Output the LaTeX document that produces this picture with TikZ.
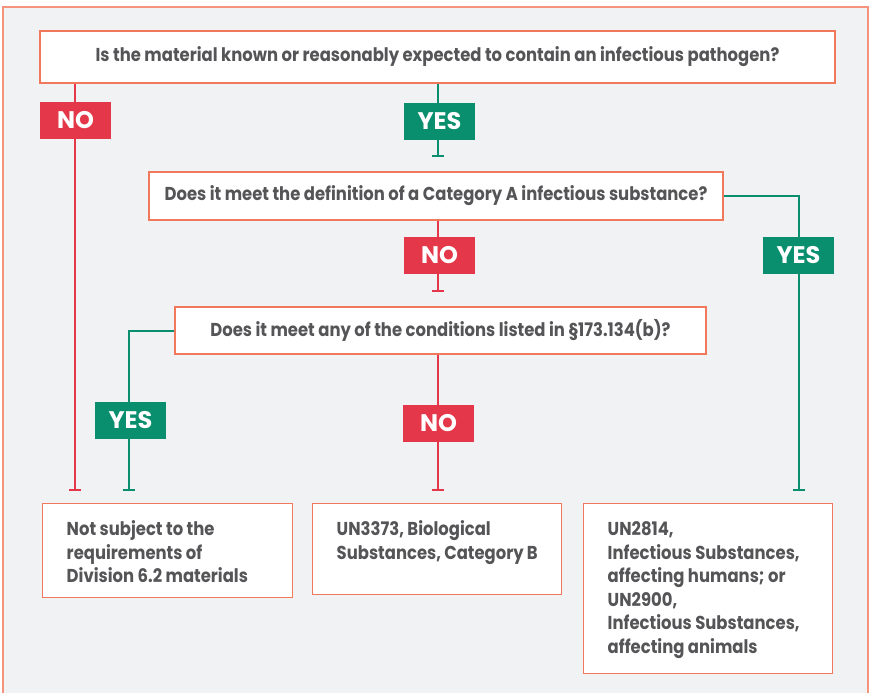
\documentclass[tikz,border=0pt]{standalone}
\usepackage{fontspec}
\setmainfont{Poppins}[FakeStretch=0.88]
\newfontfamily\tagfont{Poppins}
\usepackage{tikz}
\usetikzlibrary{arrows.meta, positioning, calc}
\definecolor{frameorange}{RGB}{242, 120, 92}
\definecolor{panelgray}{RGB}{241, 242, 244}
\definecolor{noRed}{RGB}{228, 56, 74}
\definecolor{yesGreen}{RGB}{10, 143, 110}
\definecolor{textgray}{RGB}{85, 85, 88}

\tikzset{
  question/.style={draw=frameorange, line width=1.1pt, fill=white, text=textgray, font=\bfseries\fontsize{14}{16}\selectfont, align=center, inner sep=0pt},
  outcome/.style={draw=frameorange, line width=1.1pt, fill=white, text=textgray, font=\bfseries\fontsize{14}{17.6}\selectfont, anchor=north west, inner xsep=18pt, inner ysep=0pt},
  notag/.style={fill=noRed, text=white, font=\tagfont\bfseries\fontsize{18}{18}\selectfont, minimum width=53.25pt, minimum height=27.75pt, inner sep=0pt},
  yestag/.style={notag, fill=yesGreen},
  nowire/.style={draw=noRed, line width=1.5pt, -{Bar[width=9pt]}},
  yeswire/.style={nowire, draw=yesGreen}
}
\newcommand{\outtext}[3]{\parbox[c][#1][t]{#2}{\raggedright\rule{0pt}{24pt}#3}}

\begin{document}
\begin{tikzpicture}[x=0.75pt, y=-0.75pt]
  \path[use as bounding box] (0,0) rectangle (870,692);
  \draw[frameorange!80, line width=1.1pt, fill=panelgray] (3,7) rectangle (868,720);

  % questions
  \node[question, minimum width=596.25pt, minimum height=39pt] (q1) at (437.5,57) {Is the material known or reasonably expected to contain an infectious pathogen?};
  \node[question, minimum width=430.5pt, minimum height=36pt] (q2) at (436,196) {Does it meet the definition of a Category A infectious substance?};
  \node[question, minimum width=398.25pt, minimum height=35.25pt] (q3) at (440.5,330.5) {Does it meet any of the conditions listed in \S173.134(b)?};

  % outcomes
  \node[outcome] (rA) at (42,503) {\outtext{70.5pt}{151.5pt}{Not subject to the\\requirements of\\Division 6.2 materials}};
  \node[outcome] (rB) at (312,503) {\outtext{68.25pt}{150.75pt}{UN3373, Biological\\Substances, Category B}};
  \node[outcome] (rC) at (583,503) {\outtext{127.5pt}{150.75pt}{UN2814,\\Infectious Substances,\\affecting humans; or\\UN2900,\\Infectious Substances,\\affecting animals}};

  % branch columns
  \coordinate (colL) at (75,0);
  \coordinate (colY) at (129,0);
  \coordinate (colM) at (438,0);
  \coordinate (colR) at (799,0);

  % connectors
  \draw[nowire, shorten >=9pt] (q1.south -| colL) -- (rA.north -| colL);
  \draw[yeswire, shorten >=11pt] (q1.south -| colM) -- (q2.north -| colM);
  \draw[nowire, shorten >=11pt] (q2.south -| colM) -- (q3.north -| colM);
  \draw[yeswire, shorten >=9pt] (q2.east) -| (rC.north -| colR);
  \draw[yeswire, shorten >=9pt] (q3.west) -| (rA.north -| colY);
  \draw[nowire, shorten >=9pt] (q3.south -| colM) -- (rB.north -| colM);

  % answer tags
  \node[notag] (noA) at (75.5,120.5) {NO};
  \node[yestag] (yesA) at (439.5,121) {YES};
  \node[notag] (noB) at (439.5,255.5) {NO};
  \node[yestag] (yesB) at (798.5,255.5) {YES};
  \node[yestag] (yesC) at (130.5,420) {YES};
  \node[notag] (noC) at (438.5,423) {NO};
\end{tikzpicture}
\end{document}
